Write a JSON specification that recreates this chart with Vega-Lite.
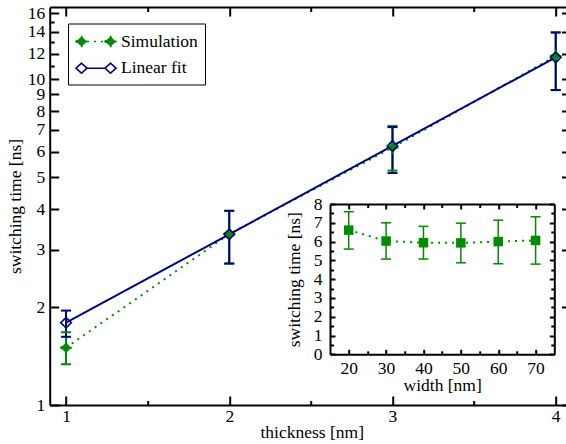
{
  "$schema": "https://vega.github.io/schema/vega-lite/v6.json",
  "width": 516.3,
  "height": 398,
  "autosize": "none",
  "padding": {"left": 49.7, "top": 7, "right": 0, "bottom": 39},
  "background": "white",
  "config": {
    "font": "Liberation Serif",
    "view": {"stroke": null},
    "axis": {
      "grid": false,
      "domainColor": "black",
      "domainWidth": 2,
      "tickColor": "black",
      "tickWidth": 2,
      "tickCap": "butt",
      "labelColor": "black",
      "titleColor": "black",
      "labelFont": "Liberation Serif",
      "titleFont": "Liberation Serif",
      "labelFontSize": 17.5,
      "titleFontSize": 17.5,
      "titleFontWeight": "normal",
      "labelFlush": false,
      "labelOverlap": false,
      "labelBound": false
    },
    "legend": {
      "labelFont": "Liberation Serif",
      "labelFontSize": 17.5,
      "labelColor": "black",
      "labelLimit": 300
    }
  },
  "layer": [
    {
      "data": {
        "values": [
          {"series": "Simulation", "x": 1, "y": 1.5, "lo": 1.334, "hi": 1.673},
          {"series": "Simulation", "x": 2, "y": 3.35, "lo": 2.72, "hi": 3.95},
          {"series": "Simulation", "x": 3, "y": 6.18, "lo": 5.25, "hi": 7.2},
          {"series": "Simulation", "x": 4, "y": 11.8, "lo": 9.28, "hi": 13.95},
          {"series": "Linear fit", "x": 1, "y": 1.79, "lo": 1.62, "hi": 1.95},
          {"series": "Linear fit", "x": 2, "y": 3.345, "lo": 2.72, "hi": 3.95},
          {"series": "Linear fit", "x": 3, "y": 6.25, "lo": 5.16, "hi": 7.14},
          {"series": "Linear fit", "x": 4, "y": 11.69, "lo": 9.28, "hi": 13.95}
        ]
      },
      "resolve": {"axis": {"x": "independent", "y": "independent"}},
      "layer": [
        {
          "transform": [{"filter": "datum.series == 'Simulation'"}],
          "mark": {"type": "line", "color": "#008B00", "strokeWidth": 2, "strokeDash": [2, 5], "strokeCap": "butt"},
          "encoding": {
            "x": {
              "field": "x", "type": "quantitative",
              "scale": {"domain": [0.9, 4.063], "nice": false, "zero": false},
              "axis": {
                "orient": "bottom",
                "values": [1, 1.5, 2, 2.5, 3, 3.5, 4],
                "labelExpr": "datum.value % 1 == 0 ? format(datum.value, 'd') : ''",
                "tickSize": {"condition": {"test": "datum.value % 1 != 0", "value": -4.5}, "value": -9},
                "labelPadding": 11.5,
                "title": "thickness [nm]",
                "titleX": 262,
                "titlePadding": -6
              }
            },
            "y": {
              "field": "y", "type": "quantitative",
              "scale": {"type": "log", "domain": [1, 16.7], "nice": false},
              "axis": {
                "orient": "left",
                "values": [1, 2, 3, 4, 5, 6, 7, 8, 9, 10, 11, 12, 13, 14, 15, 16],
                "labelExpr": "(datum.value == 11 || datum.value == 13 || datum.value == 15) ? '' : format(datum.value, 'd')",
                "tickSize": {"condition": {"test": "datum.value == 11 || datum.value == 13 || datum.value == 15", "value": -4.5}, "value": -9},
                "labelPadding": 14,
                "title": "switching time [ns]",
                "titlePadding": 3
              }
            }
          }
        },
        {
          "transform": [{"filter": "datum.series == 'Linear fit'"}],
          "mark": {"type": "line", "color": "#000080", "strokeWidth": 2},
          "encoding": {
            "x": {
              "field": "x", "type": "quantitative",
              "axis": {
                "orient": "top",
                "values": [1, 1.5, 2, 2.5, 3, 3.5, 4],
                "labels": false,
                "title": null,
                "tickSize": {"condition": {"test": "datum.value % 1 != 0", "value": -4.5}, "value": -9}
              }
            },
            "y": {
              "field": "y", "type": "quantitative",
              "axis": {
                "orient": "right",
                "values": [1, 2, 3, 4, 5, 6, 7, 8, 9, 10, 11, 12, 13, 14, 15, 16],
                "labels": false,
                "title": null,
                "domain": false,
                "tickSize": {"condition": {"test": "datum.value == 11 || datum.value == 13 || datum.value == 15", "value": 0}, "value": -4.5}
              }
            }
          }
        },
        {
          "mark": {"type": "rule", "strokeWidth": 2},
          "encoding": {
            "x": {"field": "x", "type": "quantitative", "axis": null},
            "y": {"field": "lo", "type": "quantitative", "axis": null},
            "y2": {"field": "hi"},
            "color": {
              "field": "series", "type": "nominal",
              "scale": {"domain": ["Linear fit", "Simulation"], "range": ["#000080", "#008B00"]},
              "legend": null
            }
          }
        },
        {
          "mark": {"type": "tick", "orient": "horizontal", "size": 10, "thickness": 2, "opacity": 1},
          "encoding": {
            "x": {"field": "x", "type": "quantitative", "axis": null},
            "y": {"field": "lo", "type": "quantitative", "axis": null},
            "color": {"field": "series", "type": "nominal", "legend": null}
          }
        },
        {
          "mark": {"type": "tick", "orient": "horizontal", "size": 10, "thickness": 2, "opacity": 1},
          "encoding": {
            "x": {"field": "x", "type": "quantitative", "axis": null},
            "y": {"field": "hi", "type": "quantitative", "axis": null},
            "color": {"field": "series", "type": "nominal", "legend": null}
          }
        },
        {
          "mark": {"type": "point", "shape": "diamond", "size": 110, "strokeWidth": 1.6, "opacity": 1},
          "encoding": {
            "x": {"field": "x", "type": "quantitative", "axis": null},
            "y": {"field": "y", "type": "quantitative", "axis": null},
            "stroke": {
              "field": "series", "type": "nominal",
              "scale": {"domain": ["Simulation", "Linear fit"], "range": ["#008B00", "#000080"]},
              "legend": {
                "orient": "none",
                "legendX": 18.3,
                "legendY": 16.5,
                "title": null,
                "symbolType": "M-1,0L-0.45,-0.5L0.1,0L-0.45,0.5Z M0.1,0L1.9,0 M1.9,0L2.45,-0.5L3,0L2.45,0.5Z",
                "symbolSize": 400,
                "symbolStrokeWidth": 1.6,
                "labelOffset": 24,
                "rowPadding": 6.7,
                "padding": 7,
                "strokeColor": "black",
                "fillColor": "white"
              }
            },
            "fill": {
              "field": "series", "type": "nominal",
              "scale": {"domain": ["Simulation", "Linear fit"], "range": ["#008B00", "transparent"]}
            },
            "strokeDash": {
              "field": "series", "type": "nominal",
              "scale": {"domain": ["Simulation", "Linear fit"], "range": [[2, 5], [1, 0]]}
            }
          }
        }
      ]
    },
    {
      "data": {
        "values": [
          {"w": 20, "t": 6.61, "lo": 5.6, "hi": 7.59},
          {"w": 30, "t": 6.03, "lo": 5.07, "hi": 7.0},
          {"w": 40, "t": 5.94, "lo": 5.07, "hi": 6.81},
          {"w": 50, "t": 5.93, "lo": 4.87, "hi": 6.98},
          {"w": 60, "t": 6.0, "lo": 4.82, "hi": 7.14},
          {"w": 70, "t": 6.06, "lo": 4.8, "hi": 7.32}
        ]
      },
      "resolve": {"axis": {"x": "independent", "y": "independent"}},
      "layer": [
        {
          "mark": {"type": "line", "color": "#008B00", "strokeWidth": 2, "strokeDash": [2, 5], "strokeCap": "butt"},
          "encoding": {
            "x": {
              "field": "w", "type": "quantitative",
              "scale": {"domain": [15, 75], "range": [280.3, 504.6], "nice": false, "zero": false},
              "axis": {
                "orient": "bottom", "offset": -50.7,
                "values": [20, 25, 30, 35, 40, 45, 50, 55, 60, 65, 70],
                "labelExpr": "datum.value % 10 == 0 ? format(datum.value, 'd') : ''",
                "tickSize": {"condition": {"test": "datum.value % 10 != 0", "value": -3.5}, "value": -5},
                "labelPadding": 10.4,
                "title": "width [nm]",
                "titlePadding": -2
              }
            },
            "y": {
              "field": "t", "type": "quantitative",
              "scale": {"domain": [0, 8], "range": [347.3, 197], "nice": false},
              "axis": {
                "orient": "left", "offset": -280.3,
                "values": [0, 0.5, 1, 1.5, 2, 2.5, 3, 3.5, 4, 4.5, 5, 5.5, 6, 6.5, 7, 7.5, 8],
                "labelExpr": "datum.value % 1 == 0 ? format(datum.value, 'd') : ''",
                "tickSize": {"condition": {"test": "datum.value % 1 != 0", "value": -3.5}, "value": -5},
                "labelPadding": 13,
                "title": "switching time [ns]",
                "titlePadding": 10
              }
            }
          }
        },
        {
          "mark": {"type": "rule", "color": "#008B00", "strokeWidth": 1.5},
          "encoding": {
            "x": {
              "field": "w", "type": "quantitative",
              "axis": {
                "orient": "top", "offset": -197,
                "values": [20, 25, 30, 35, 40, 45, 50, 55, 60, 65, 70],
                "labels": false, "title": null,
                "tickSize": {"condition": {"test": "datum.value % 10 != 0", "value": -3.5}, "value": -5}
              }
            },
            "y": {
              "field": "lo", "type": "quantitative",
              "axis": {
                "orient": "right", "offset": -11.7,
                "values": [0, 0.5, 1, 1.5, 2, 2.5, 3, 3.5, 4, 4.5, 5, 5.5, 6, 6.5, 7, 7.5, 8],
                "labels": false, "title": null,
                "tickSize": {"condition": {"test": "datum.value % 1 != 0", "value": -3.5}, "value": -5}
              }
            },
            "y2": {"field": "hi"}
          }
        },
        {
          "mark": {"type": "tick", "orient": "horizontal", "color": "#008B00", "size": 10, "thickness": 1.5, "opacity": 1},
          "encoding": {
            "x": {"field": "w", "type": "quantitative", "axis": null},
            "y": {"field": "lo", "type": "quantitative", "axis": null}
          }
        },
        {
          "mark": {"type": "tick", "orient": "horizontal", "color": "#008B00", "size": 10, "thickness": 1.5, "opacity": 1},
          "encoding": {
            "x": {"field": "w", "type": "quantitative", "axis": null},
            "y": {"field": "hi", "type": "quantitative", "axis": null}
          }
        },
        {
          "mark": {"type": "point", "shape": "square", "size": 90, "filled": true, "color": "#008B00", "opacity": 1},
          "encoding": {
            "x": {"field": "w", "type": "quantitative", "axis": null},
            "y": {"field": "t", "type": "quantitative", "axis": null}
          }
        }
      ]
    }
  ],
  "resolve": {
    "scale": {"x": "independent", "y": "independent"},
    "axis": {"x": "independent", "y": "independent"}
  }
}
